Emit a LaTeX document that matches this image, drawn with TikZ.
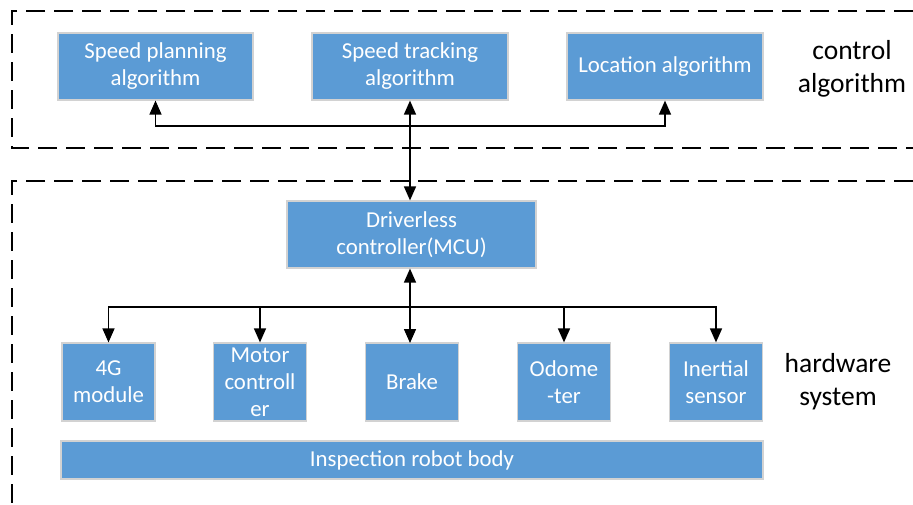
\documentclass[tikz,border=0pt]{standalone}
\usepackage{fontspec}
\setmainfont{Carlito}
\usetikzlibrary{arrows.meta}

\definecolor{boxblue}{HTML}{5B9BD5}

\begin{document}
\begin{tikzpicture}[x=1pt, y=-1pt,
    blk/.style={fill=boxblue, draw=gray!35, line width=1.2pt, text=white, align=center,
        inner sep=0pt, font=\fontsize{22.8}{27}\selectfont},
    frame/.style={dashed, line width=1.6pt, dash pattern=on 19pt off 9pt},
    lbl/.style={align=center, font=\fontsize{27.5}{33}\selectfont},
    arr/.style={-{Triangle[width=12pt, length=14pt]}, line width=1.5pt},
    darr/.style={{Triangle[width=12pt, length=14pt]}-{Triangle[width=12pt, length=14pt]}, line width=1.5pt}]
    \useasboundingbox (0, 0) rectangle (913, 504);

    % dashed frames
    \draw[frame] (913, 11) -- (12, 11) -- (12, 148) -- (913, 148);
    \draw[frame] (913, 181) -- (12, 181) -- (12, 504);

    \node[blk, minimum width=195, minimum height=67] (splan) at (155.5, 66.5) {Speed planning\\algorithm};
    \node[blk, minimum width=196, minimum height=67] (strack) at (410, 66.5) {Speed tracking\\algorithm};
    \node[blk, minimum width=196, minimum height=67] (loc) at (665, 66.5) {Location algorithm};
    \node[lbl] (ctrl) at (852, 69) {control\\algorithm};

    \node[blk, minimum width=249, minimum height=67] (drv) at (411.5, 234.5) {Driverless\\controller(MCU)};

    \foreach \name/\x/\txt in {g4/108.5/4G\\module, motor/260/Motor\\controll\\er, brake/412/Brake,
        odo/564/Odome\\-ter, inert/716/Inertial\\sensor} {
        \node[blk, minimum width=93, minimum height=78] (\name) at (\x, 382) {\txt};
    }
    \node[blk, minimum width=702, minimum height=38] (body) at (412, 460) {Inspection robot body};
    \node[lbl] (hw) at (838, 382) {hardware\\system};

    % connectors
    \coordinate (topbus) at (410, 126);
    \draw[darr] (strack.south) -- (strack.south |- drv.north);
    \draw[arr] (topbus) -| (splan.south);
    \draw[arr] (topbus) -| (loc.south);

    \coordinate (botbus) at (410, 307);
    \draw[darr] (drv.south -| 410, 0) -- (410, 343);
    \foreach \name in {g4, motor, odo, inert} {
        \draw[arr] (botbus) -| (\name.north);
    }
\end{tikzpicture}
\end{document}
